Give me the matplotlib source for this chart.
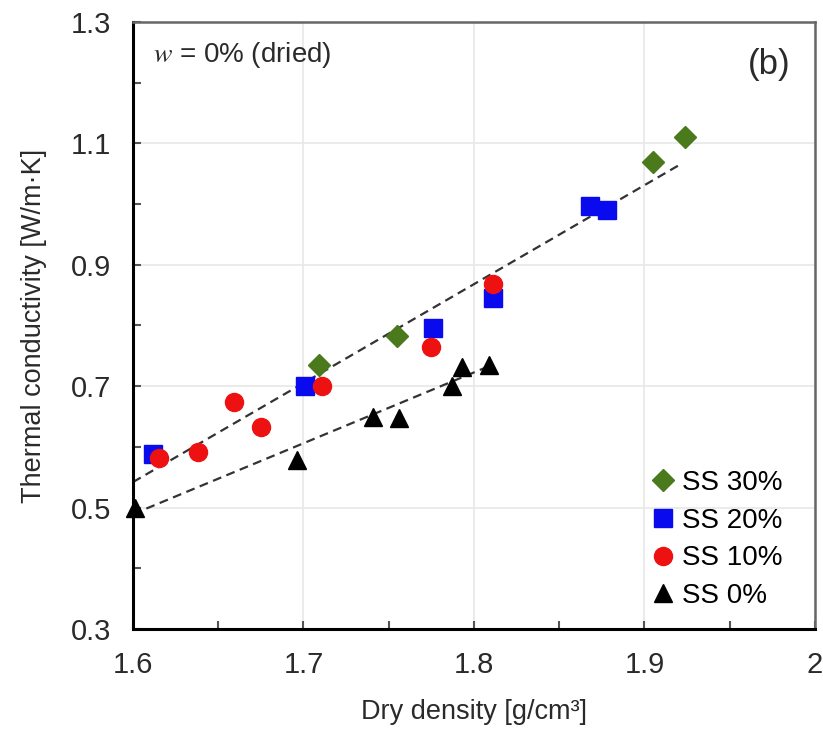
import numpy as np
import matplotlib
matplotlib.use("Agg")
import matplotlib.pyplot as plt

plt.rcParams["font.family"] = ["Liberation Sans Narrow", "Liberation Sans", "DejaVu Sans"]
plt.rcParams["mathtext.fontset"] = "stix"

# values
ss30_x = [1.709, 1.755, 1.905, 1.924]
ss30_y = [0.735, 0.782, 1.070, 1.111]

ss20_x = [1.612, 1.701, 1.776, 1.811, 1.868, 1.878]
ss20_y = [0.589, 0.700, 0.795, 0.846, 0.997, 0.991]

ss10_x = [1.615, 1.638, 1.659, 1.675, 1.711, 1.775, 1.811]
ss10_y = [0.582, 0.592, 0.674, 0.633, 0.700, 0.764, 0.869]

ss0_x = [1.601, 1.696, 1.741, 1.756, 1.787, 1.793, 1.809]
ss0_y = [0.500, 0.578, 0.649, 0.647, 0.700, 0.731, 0.735]

# dashed trend lines: slope, intercept, x range
upper_fit = (1.63, -2.066)
upper_range = [1.6, 1.922]
lower_fit = (1.167, -1.378)
lower_range = [1.6, 1.81]

x_ticks = [1.6, 1.7, 1.8, 1.9, 2.0]
x_ticklabels = ["1.6", "1.7", "1.8", "1.9", "2"]
y_ticks = [0.3, 0.5, 0.7, 0.9, 1.1, 1.3]
y_ticklabels = ["0.3", "0.5", "0.7", "0.9", "1.1", "1.3"]

fig = plt.figure(figsize=(8.23, 7.34), dpi=100)
ax = fig.add_axes([0.1616, 0.1431, 0.8285, 0.827])

for (slope, icpt), xr in [(upper_fit, upper_range), (lower_fit, lower_range)]:
    xr = np.array(xr)
    ax.plot(xr, slope * xr + icpt, color="#333333", lw=1.6,
            linestyle=(0, (4, 2.5)), zorder=2)

ax.plot(ss30_x, ss30_y, "D", color="#4a7a1c", ms=11, label="SS 30%", zorder=3)
ax.plot(ss20_x, ss20_y, "s", color="#0a0aee", ms=13, label="SS 20%", zorder=3)
ax.plot(ss10_x, ss10_y, "o", color="#ee1111", ms=13, label="SS 10%", zorder=3)
ax.plot(ss0_x, ss0_y, "^", color="black", ms=13, label="SS 0%", zorder=4,
        clip_on=False)

ax.set_xlim(1.6, 2.0)
ax.set_ylim(0.3, 1.3)
ax.set_xticks(x_ticks, x_ticklabels)
ax.set_yticks(y_ticks, y_ticklabels)
ax.set_xticks(np.arange(1.65, 2.0, 0.1), minor=True)
ax.set_yticks(np.arange(0.4, 1.3, 0.2), minor=True)
ax.grid(True, which="major", color="#e8e8e8", lw=1.2)
ax.set_axisbelow(True)

ax.tick_params(which="both", direction="in", color="#555555", width=1.5,
               top=False, right=False)
ax.tick_params(which="major", length=6, labelsize=21, pad=16, labelcolor="#2a2a2a")
ax.tick_params(which="minor", length=6)

for side in ["left", "bottom"]:
    ax.spines[side].set_color("black")
    ax.spines[side].set_linewidth(2.2)
for side in ["top", "right"]:
    ax.spines[side].set_color("#666666")
    ax.spines[side].set_linewidth(1.8)

ax.set_xlabel("Dry density [g/cm³]", fontsize=19.5, color="#2a2a2a", labelpad=14)
ax.set_ylabel("Thermal conductivity [W/m·K]", fontsize=19.5, color="#2a2a2a",
              labelpad=17)

ax.text(0.03, 0.945, "$w$ = 0% (dried)", transform=ax.transAxes, fontsize=20,
        va="center", ha="left", color="#2a2a2a")
ax.text(0.933, 0.93, "(b)", transform=ax.transAxes, fontsize=25,
        va="center", ha="center", color="#2a2a2a")

ax.legend(loc="upper left", bbox_to_anchor=(0.74, 0.28), frameon=False,
          fontsize=20, handletextpad=0.2, labelspacing=0.42, handlelength=1.0,
          markerscale=1.0, borderaxespad=0)

fig.savefig("out.png", dpi=100)
